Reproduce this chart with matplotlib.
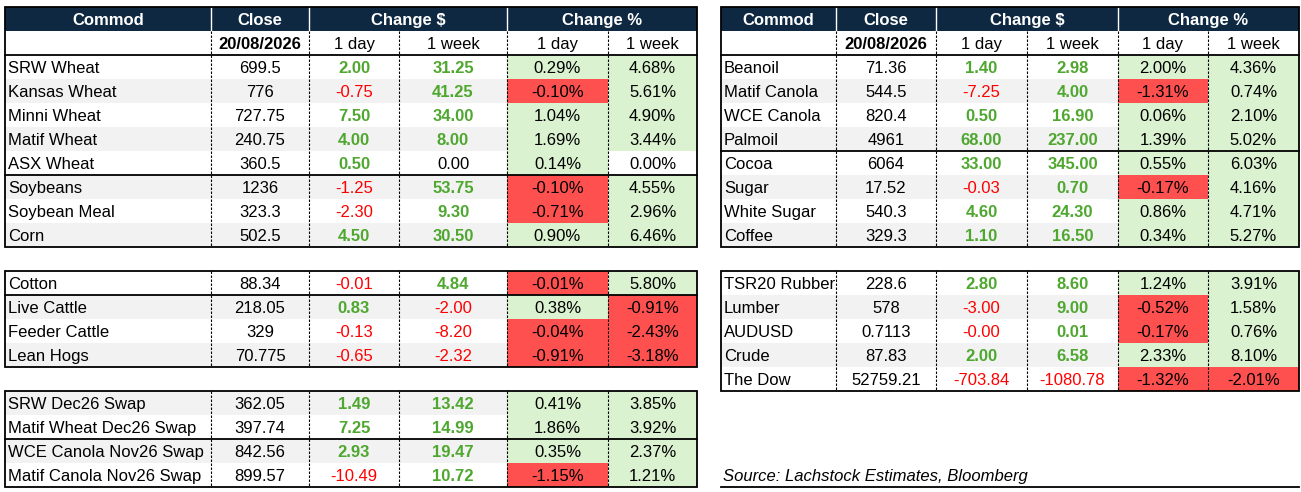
import matplotlib.pyplot as plt
from matplotlib.patches import Rectangle

plt.rcParams['font.family'] = ['Liberation Sans', 'DejaVu Sans']

DATE = '20/08/2026'
SOURCE = 'Source: Lachstock Estimates, Bloomberg'

# left, top block: grains
grain_names = ['SRW Wheat', 'Kansas Wheat', 'Minni Wheat', 'Matif Wheat', 'ASX Wheat',
               'Soybeans', 'Soybean Meal', 'Corn']
grain_close = [699.5, 776, 727.75, 240.75, 360.5, 1236, 323.3, 502.5]
grain_chg_day = [2.00, -0.75, 7.50, 4.00, 0.50, -1.25, -2.30, 4.50]
grain_chg_week = [31.25, 41.25, 34.00, 8.00, 0.00, 53.75, 9.30, 30.50]
grain_pct_day = [0.29, -0.10, 1.04, 1.69, 0.14, -0.10, -0.71, 0.90]
grain_pct_week = [4.68, 5.61, 4.90, 3.44, 0.00, 4.55, 2.96, 6.46]

# left, middle block: cotton / livestock
live_names = ['Cotton', 'Live Cattle', 'Feeder Cattle', 'Lean Hogs']
live_close = [88.34, 218.05, 329, 70.775]
live_chg_day = [-0.01, 0.83, -0.13, -0.65]
live_chg_week = [4.84, -2.00, -8.20, -2.32]
live_pct_day = [-0.01, 0.38, -0.04, -0.91]
live_pct_week = [5.80, -0.91, -2.43, -3.18]

# left, bottom block: swaps
swap_names = ['SRW Dec26 Swap', 'Matif Wheat Dec26 Swap', 'WCE Canola Nov26 Swap',
              'Matif Canola Nov26 Swap']
swap_close = [362.05, 397.74, 842.56, 899.57]
swap_chg_day = [1.49, 7.25, 2.93, -10.49]
swap_chg_week = [13.42, 14.99, 19.47, 10.72]
swap_pct_day = [0.41, 1.86, 0.35, -1.15]
swap_pct_week = [3.85, 3.92, 2.37, 1.21]

# right, top block: oils / softs
oil_names = ['Beanoil', 'Matif Canola', 'WCE Canola', 'Palmoil', 'Cocoa', 'Sugar',
             'White Sugar', 'Coffee']
oil_close = [71.36, 544.5, 820.4, 4961, 6064, 17.52, 540.3, 329.3]
oil_chg_day = [1.40, -7.25, 0.50, 68.00, 33.00, -0.03, 4.60, 1.10]
oil_chg_week = [2.98, 4.00, 16.90, 237.00, 345.00, 0.70, 24.30, 16.50]
oil_pct_day = [2.00, -1.31, 0.06, 1.39, 0.55, -0.17, 0.86, 0.34]
oil_pct_week = [4.36, 0.74, 2.10, 5.02, 6.03, 4.16, 4.71, 5.27]

# right, bottom block: macro
macro_names = ['TSR20 Rubber', 'Lumber', 'AUDUSD', 'Crude', 'The Dow']
macro_close = [228.6, 578, 0.7113, 87.83, 52759.21]
macro_chg_day = [2.80, -3.00, -0.0012, 2.00, -703.84]
macro_chg_week = [8.60, 9.00, 0.0054, 6.58, -1080.78]
macro_pct_day = [1.24, -0.52, -0.17, 2.33, -1.32]
macro_pct_week = [3.91, 1.58, 0.76, 8.10, -2.01]

NAVY = '#0E2841'
GREY = '#F2F2F2'
GREEN_FILL = '#DAF2D0'
RED_FILL = '#FF5050'
GREEN_TXT = '#4EA72E'
RED_TXT = '#FF0000'
FS = 12

LEFT_X = [5, 211, 309, 399, 507, 608, 697]
RIGHT_X = [721, 836, 936, 1027, 1118, 1208, 1299]
ROW_H = 24
DASH = (0, (2.2, 1.4))

fig = plt.figure(figsize=(13.01, 4.92), dpi=100)
ax = fig.add_axes([0, 0, 1, 1])
ax.set_xlim(0, 1301)
ax.set_ylim(492, 0)
ax.axis('off')


def fmt_close(v):
    return f'{v:.6f}'.rstrip('0').rstrip('.')


def mid(a, b):
    return (a + b) / 2


def cell_text(x, y, s, **kw):
    kw.setdefault('ha', 'center')
    ax.text(x, y, s, fontsize=FS, va='center_baseline', zorder=5, **kw)


def draw_header(xs, top):
    ax.add_patch(Rectangle((xs[0], top), xs[-1] - xs[0], ROW_H, fc=NAVY, ec='none', zorder=1))
    yc = top + ROW_H / 2
    for label, x in [('Commod', mid(xs[0], xs[1])), ('Close', mid(xs[1], xs[2])),
                     ('Change $', mid(xs[2], xs[4])), ('Change %', mid(xs[4], xs[6]))]:
        cell_text(x, yc, label, color='white', fontweight='bold')
    for x in (xs[1], xs[2], xs[4]):
        ax.plot([x, x], [top, top + ROW_H], color='white', lw=1, zorder=3)
    sub = top + ROW_H
    yc = sub + ROW_H / 2
    cell_text(mid(xs[1], xs[2]), yc, DATE, fontweight='bold')
    for j, label in enumerate(['1 day', '1 week', '1 day', '1 week']):
        cell_text(mid(xs[j + 2], xs[j + 3]), yc, label)
    for x in xs[1:-1]:
        ax.plot([x, x], [sub, sub + ROW_H], color='black', lw=0.8, ls=DASH, zorder=3)
    return sub + ROW_H


def chg_style(v):
    if v > 0:
        return GREEN_TXT, 'bold'
    if v < 0:
        return RED_TXT, 'normal'
    return 'black', 'normal'


def draw_body(xs, top, names, close, chg_d, chg_w, pct_d, pct_w, grey_first=False,
              breaks=(), header_top=None):
    n = len(names)
    for i in range(n):
        y0 = top + i * ROW_H
        yc = y0 + ROW_H / 2
        bg = GREY if (i % 2 == 1) != grey_first else 'white'
        ax.add_patch(Rectangle((xs[0], y0), xs[4] - xs[0], ROW_H, fc=bg, ec='none', zorder=1))
        for j, p in enumerate((pct_d[i], pct_w[i])):
            fc = GREEN_FILL if p > 0 else RED_FILL if p < 0 else bg
            ax.add_patch(Rectangle((xs[4 + j], y0), xs[5 + j] - xs[4 + j], ROW_H,
                                   fc=fc, ec='none', zorder=1))
            cell_text(mid(xs[4 + j], xs[5 + j]), yc, f'{p:.2f}%')
        cell_text(xs[0] + 3, yc, names[i], ha='left')
        cell_text(mid(xs[1], xs[2]), yc, fmt_close(close[i]))
        for j, v in enumerate((chg_d[i], chg_w[i])):
            col, wt = chg_style(v)
            cell_text(mid(xs[2 + j], xs[3 + j]), yc, f'{v:.2f}', color=col, fontweight=wt)
    bottom = top + n * ROW_H
    for x in xs[1:-1]:
        ax.plot([x, x], [top, bottom], color='black', lw=0.8, ls=DASH, zorder=3)
    for b in breaks:
        y = top + (b + 1) * ROW_H
        ax.plot([xs[0], xs[-1]], [y, y], color='black', lw=1.3, zorder=4)
    if header_top is not None:
        ax.plot([xs[0], xs[-1]], [top, top], color='black', lw=1.3, zorder=4)
        top = header_top
    ax.add_patch(Rectangle((xs[0], top), xs[-1] - xs[0], bottom - top, fc='none',
                           ec='black', lw=1.3, zorder=4))
    return bottom


# left side
body_top = draw_header(LEFT_X, 7)
draw_body(LEFT_X, body_top, grain_names, grain_close, grain_chg_day, grain_chg_week,
          grain_pct_day, grain_pct_week, breaks=(4,), header_top=7)
draw_body(LEFT_X, 271, live_names, live_close, live_chg_day, live_chg_week,
          live_pct_day, live_pct_week, breaks=(0,))
draw_body(LEFT_X, 391, swap_names, swap_close, swap_chg_day, swap_chg_week,
          swap_pct_day, swap_pct_week, grey_first=True, breaks=(1,))

# right side
body_top = draw_header(RIGHT_X, 7)
draw_body(RIGHT_X, body_top, oil_names, oil_close, oil_chg_day, oil_chg_week,
          oil_pct_day, oil_pct_week, breaks=(3,), header_top=7)
draw_body(RIGHT_X, 271, macro_names, macro_close, macro_chg_day, macro_chg_week,
          macro_pct_day, macro_pct_week)

ax.text(RIGHT_X[0] + 2, 475, SOURCE, fontsize=FS, style='italic',
        ha='left', va='center_baseline')
ax.plot([RIGHT_X[0], RIGHT_X[-1]], [487, 487], color='black', lw=1.3)

fig.savefig('out.png', dpi=100)
